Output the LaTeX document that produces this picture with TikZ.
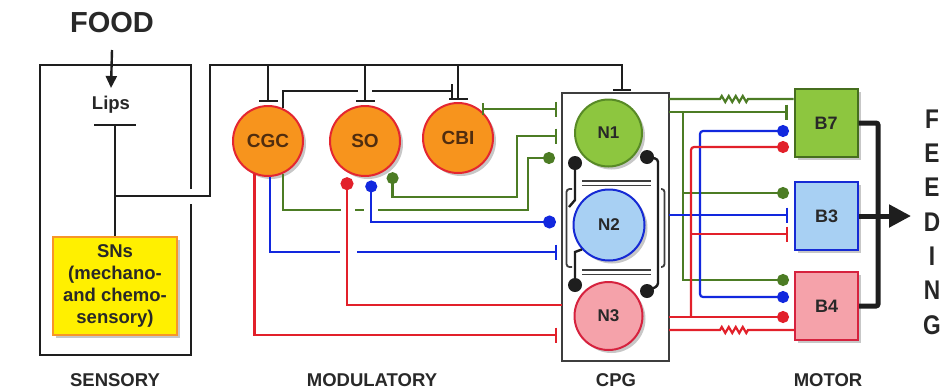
\documentclass[tikz,border=0pt]{standalone}
\usepackage{fontspec}
\setmainfont{Liberation Sans}
\usetikzlibrary{arrows.meta,shadows,decorations.pathmorphing}
\definecolor{orf}{RGB}{247,148,29}
\definecolor{orb}{RGB}{228,38,48}
\definecolor{gfill}{RGB}{141,198,63}
\definecolor{gbord}{RGB}{88,138,38}
\definecolor{bfill}{RGB}{168,208,243}
\definecolor{bbord}{RGB}{22,42,212}
\definecolor{pfill}{RGB}{245,162,170}
\definecolor{pbord}{RGB}{214,34,62}
\definecolor{gln}{RGB}{76,124,36}
\definecolor{bln}{RGB}{18,40,222}
\definecolor{rln}{RGB}{226,32,42}
\definecolor{kln}{RGB}{30,30,30}
\definecolor{cpgc}{RGB}{62,62,62}
\definecolor{ylw}{RGB}{255,240,0}
\definecolor{ylb}{RGB}{247,150,40}
\definecolor{txt}{RGB}{40,40,40}
\definecolor{brn}{RGB}{80,45,15}
\begin{document}
\begin{tikzpicture}[x=1pt,y=-1pt,
  shd/.style={drop shadow={shadow xshift=3pt,shadow yshift=-3pt,opacity=0.22,fill=black}},
  modn/.style={circle,minimum size=70pt,inner sep=0pt,fill=orf,draw=orb,line width=2pt,
     font=\fontsize{19}{19}\selectfont\bfseries,text=brn,shd},
  cpgn/.style={circle,inner sep=0pt,line width=2pt,font=\fontsize{17}{17}\selectfont\bfseries,text=txt,shd},
  motn/.style={rectangle,minimum width=63pt,minimum height=68pt,inner sep=0pt,line width=2pt,
     font=\fontsize{18}{18}\selectfont\bfseries,text=txt,shd},
  lbl/.style={font=\fontsize{18.5}{18.5}\selectfont\bfseries,text=txt,anchor=base,inner sep=0pt},
  kl/.style={draw=kln,line width=2.4pt},
  gl/.style={draw=gln,line width=2.2pt},
  bl/.style={draw=bln,line width=2.2pt},
  rl/.style={draw=rln,line width=2.2pt},
  cl/.style={draw=cpgc,line width=1.8pt},
  res/.style={decoration={zigzag,segment length=7pt,amplitude=3pt}}
]
\useasboundingbox (0,0) rectangle (941,389);
\fill[white] (0,0) rectangle (941,389);

% ---------- nodes ----------
\node[font=\fontsize{29}{29}\selectfont\bfseries,text=txt] (FOOD) at (112,23) {FOOD};
\node[font=\fontsize{18.5}{18.5}\selectfont\bfseries,text=txt,anchor=base] (lips) at (111,109) {Lips};
\node[rectangle,minimum width=124pt,minimum height=98pt,inner sep=0pt,fill=ylw,draw=ylb,line width=2pt,
      align=center,font=\fontsize{18.5}{22}\selectfont\bfseries,text=txt,shd] (SNs) at (115,286)
      {SNs\\(mechano-\\and chemo-\\sensory)};

\node[modn] (CGC) at (268,141) {CGC};
\node[modn] (SO) at (365,141) {SO};
\node[modn] (CBI) at (458,138) {CBI};

\node[cpgn,fill=gfill,draw=gbord,minimum size=67pt] (N1) at (608.5,133) {N1};
\node[cpgn,fill=bfill,draw=bbord,minimum size=71pt] (N2) at (609,225) {N2};
\node[cpgn,fill=pfill,draw=pbord,minimum size=68pt] (N3) at (608.5,316) {N3};

\node[motn,fill=gfill,draw=gbord!80!black] (B7) at (826,123) {B7};
\node[motn,fill=bfill,draw=bbord] (B3) at (826.5,216) {B3};
\node[motn,fill=pfill,draw=pbord] (B4) at (826.5,306) {B4};

\node[font=\fontsize{27}{34.3}\selectfont\bfseries,align=center,text=black!85,xscale=0.84,transform shape]
     (FEED) at (932,222) {F\\E\\E\\D\\I\\N\\G};

\node[lbl] (lsens) at (115,386) {SENSORY};
\node[lbl] (lmod) at (372,386) {MODULATORY};
\node[lbl] (lcpg) at (616,386) {CPG};
\node[lbl] (lmot) at (828,386) {MOTOR};

% ---------- coordinates ----------
\coordinate (lipsbar) at (115,124);
\coordinate (j0) at (115,196);
\coordinate (jtop) at (0,65);
\coordinate (cpgtop) at (622,91);
\coordinate (cLa) at (557,111);
\coordinate (cLb) at (557,136);
\coordinate (cLc) at (555,158);
\coordinate (cLd) at (556,222);
\coordinate (cLe) at (557,252);
\coordinate (cLf) at (562,305);
\coordinate (cLg) at (557,335);
\coordinate (cRa) at (669,99);
\coordinate (cRb) at (669,112);
\coordinate (cRc) at (669,215);
\coordinate (cRd) at (669,317);
\coordinate (cRe) at (669,330);
\coordinate (gj) at (683,112);
\coordinate (rj) at (691,317);

% ---------- sensory box ----------
\draw[kl] (191,189) -- (191,65) -- (40,65) -- (40,355) -- (191,355) -- (191,204);
\draw[kl,-{Triangle[length=12pt,width=11pt]}] (FOOD.south |- 0,50) -- (lips.north |- 0,88);
\draw[kl,-{Bar[width=42pt]}] (SNs.north) -- (lipsbar);
\draw[kl,-{Bar[width=18pt]}] (j0) -| (210,65) -| (cpgtop);
\draw[kl,-{Bar[width=19pt]},shorten >=3pt] (CGC.north |- jtop) -- (CGC.north);
\draw[kl,-{Bar[width=19pt]},shorten >=3pt] (SO.north |- jtop) -- (SO.north);
\draw[kl,-{Bar[width=19pt]},shorten >=2pt] (CBI.north |- jtop) -- (CBI.north);
\draw[kl] (CGC.65) |- (358,91);
\draw[kl,-{Bar[width=14pt]}] (372,91) -- (453,91);

% ---------- CPG box ----------
\draw[cl] (562,93) rectangle (669,361);
\draw[cl,rounded corners=3pt] (572,189) -- (566.5,189) -- (566.5,267) -- (572,267);
\draw[cl,rounded corners=3pt] (661,189) -- (664.5,189) -- (664.5,267) -- (661,267);
\draw[cl,line width=1.5pt] (582,181) -- (651,181) (582,185.5) -- (651,185.5)
                           (582,270) -- (651,270) (582,274.5) -- (651,274.5);
% CPG internal
\draw[kl] (575,163) -- (575,200) -- (569,207);
\fill[kln] (575,163) circle (7pt);
\draw[kl] (N2.-138) -- (575,252) -- (575,285);
\fill[kln] (575,285) circle (7pt);
\draw[kl,rounded corners=3pt] (647,157) -- (658,159) -- (658,286) -- (647,291);
\fill[kln] (647,157) circle (7pt);
\fill[kln] (647,291) circle (7pt);

% ---------- modulatory -> CPG ----------
\draw[gl,{Bar[width=12pt]}-{Bar[width=15pt]},shorten <=2pt] (CBI.53) -- (CBI.53 -| cLa);
\draw[gl,{Bar[width=15pt]}-{Circle[length=12pt]}] (cLb) -| (517,197) -| ([yshift=-8pt]SO.-40);
\draw[gl,-{Circle[length=12pt]}] (CGC.-65) |- (528,210) |- (cLc);
\draw[bl,-{Bar[width=15pt]}] (CGC.-87) |- (cLe);
\fill[white] (341,204) rectangle (355,216);
\fill[white] (364,204) rectangle (378,216);
\fill[white] (340,246) rectangle (357,258);
\draw[bl,{Circle[length=12pt]}-{Circle[length=13pt]}] ([yshift=-4pt]SO.-80) |- (cLd);
\draw[rl,{Circle[length=13pt]}-] ([yshift=-5pt]SO.-120) |- (cLf);
\draw[rl,-{Bar[width=15pt]}] (CGC.-112) |- (cLg);

% ---------- CPG -> motor ----------
\draw[gl] (cRa) -- (720,99) decorate[res]{-- (748,99)} -- (cRa -| B7.west);
\draw[gl,-{Bar[width=15pt]},shorten >=6pt] (cRb) -- (cRb -| B7.west);
\draw[gl,-{Circle[length=12pt]}] (gj) |- (789,193);
\draw[gl,-{Circle[length=12pt]}] (gj) |- (789,280);
\draw[bl,-{Bar[width=15pt]},shorten >=6pt] (cRc) -- (cRc -| B3.west);
\draw[bl,{Circle[length=12pt]}-{Circle[length=12pt]},rounded corners=3pt] (789,131) -| (700,215) |- (789,297);
\draw[rl,-{Circle[length=12pt]}] (cRd) -- (789,317);
\draw[rl,-{Circle[length=12pt]},rounded corners=3pt] (rj) |- (789,147);
\draw[rl,-{Bar[width=15pt]}] (691,234) -- (788,234);
\draw[rl] (cRe) -- (720,330) decorate[res]{-- (748,330)} -- (cRe -| B4.west);

% ---------- output ----------
\draw[kln,line width=5pt,rounded corners=2pt] (B7.east) -| (878,216) |- (B4.east);
\draw[kln,line width=5pt,-{Triangle[length=22pt,width=22pt]}] (B3.east) -- (911,216);
\end{tikzpicture}
\end{document}
